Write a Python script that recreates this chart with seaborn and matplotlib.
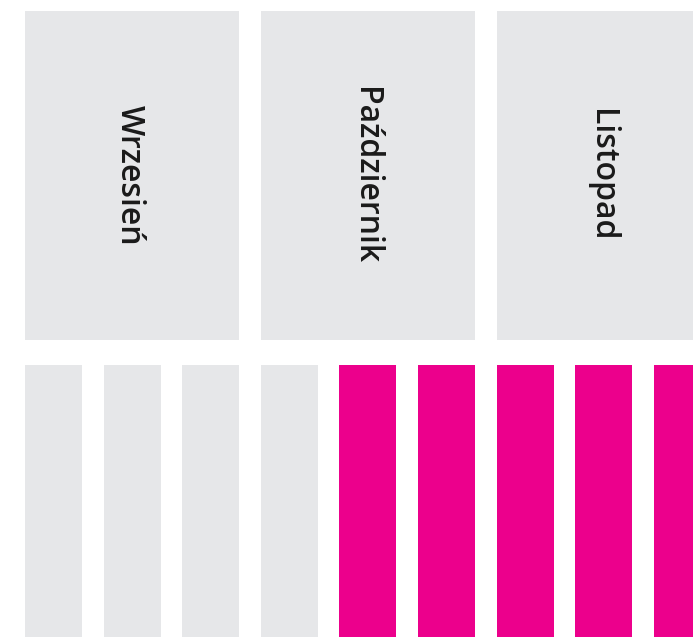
import pandas as pd
import seaborn as sns
import matplotlib.pyplot as plt

# data
months = ["Wrzesień", "Październik", "Listopad"]
weeks = ["W1", "W2", "W3", "W4", "W5", "W6", "W7", "W8", "W9"]
active = [0, 0, 0, 0, 1, 1, 1, 1, 1]
bar_value = [1, 1, 1, 1, 1, 1, 1, 1, 1]

GRAY = "#e6e7e9"
PINK = "#ec008c"

df = pd.DataFrame({"week": weeks, "value": bar_value, "active": active})

sns.set_theme(style="white")
plt.rcParams["font.family"] = ["Open Sans", "DejaVu Sans"]

fig = plt.figure(figsize=(6.93, 6.37), dpi=100)
ax = fig.add_axes([0, 0, 1, 1])

# layout (pixels of the 693x637 picture)
slot_px = 78.6
first_center_px = 53.5
bar_w = 0.725
px_unit = 400.0           # pixels per bar value unit
bar_top_px = 365
head_top_px = 11
head_bot_px = 340

sns.barplot(data=df, x="week", y="value", hue="active",
            palette={0: GRAY, 1: PINK}, width=bar_w, dodge=False,
            legend=False, ax=ax, linewidth=0, saturation=1)

# month header boxes spanning 3 weeks each
head_bottom = 1 + (bar_top_px - head_bot_px) / px_unit
head_height = (head_bot_px - head_top_px) / px_unit
for i, m in enumerate(months):
    cx = i * 3 + 1
    ax.bar(cx, head_height, width=2 + bar_w, bottom=head_bottom,
           color=GRAY, linewidth=0)
    ax.text(cx - 0.03, head_bottom + head_height / 2, m, rotation=-90,
            ha="center", va="center", fontsize=23, fontweight="semibold",
            color="#1a1a1a")

ax.set_xlim(-first_center_px / slot_px, (693 - first_center_px) / slot_px)
ax.set_ylim(1 - (637 - bar_top_px) / px_unit, 1 + bar_top_px / px_unit)
ax.axis("off")

fig.savefig("out.png", dpi=100, facecolor="white")
